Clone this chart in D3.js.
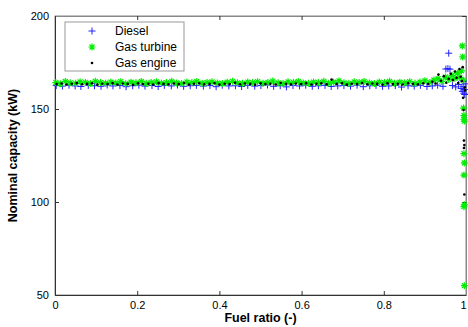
<!DOCTYPE html>
<html><head><meta charset="utf-8">
<script src="https://cdn.jsdelivr.net/npm/d3@7/dist/d3.min.js"></script>
<style>body{margin:0;background:#fff}svg{display:block;font-family:"Liberation Sans",Arial,Helvetica,sans-serif}</style>
</head><body>
<script>
const xTicks=[0,0.2,0.4,0.6,0.8,1];
const yTicks=[50,100,150,200];
const seriesNames=["Diesel","Gas turbine","Gas engine"];
const diesel=[[0.003,162.6],[0.018,162.3],[0.034,162.8],[0.049,162.4],[0.063,162.1],[0.081,162.7],[0.096,162.5],[0.112,162.2],[0.127,162.9],[0.141,162.4],[0.158,162.6],[0.173,162.0],[0.189,162.5],[0.204,162.8],[0.219,162.3],[0.236,162.6],[0.251,162.1],[0.266,162.7],[0.283,162.4],[0.298,162.9],[0.313,162.2],[0.329,162.5],[0.344,162.7],[0.361,162.3],[0.377,162.6],[0.392,162.0],[0.407,162.8],[0.423,162.4],[0.439,162.5],[0.454,162.1],[0.469,162.7],[0.486,162.3],[0.501,162.6],[0.517,162.9],[0.532,162.2],[0.548,162.5],[0.563,161.9],[0.579,162.6],[0.595,162.4],[0.61,162.8],[0.626,162.2],[0.641,162.5],[0.657,162.7],[0.672,162.1],[0.688,162.4],[0.703,162.6],[0.719,162.3],[0.735,162.8],[0.75,162.0],[0.766,162.5],[0.781,162.7],[0.797,162.2],[0.812,162.4],[0.828,162.6],[0.843,161.8],[0.859,162.5],[0.874,162.3],[0.889,162.7],[0.905,162.1],[0.918,162.4],[0.931,162.8],[0.944,162.2],[0.951,171.5],[0.956,171.7],[0.961,171.4],[0.958,180],[0.967,162.6],[0.975,161.9],[0.982,163.2],[0.988,161.0],[0.991,159.5],[0.993,162.0],[0.995,158.5],[0.996,160.5],[0.997,157.8],[0.998,163.5],[0.994,165]];
const gasTurbine=[[0.002,164.2],[0.013,163.6],[0.025,164.8],[0.037,164.1],[0.05,163.8],[0.061,164.6],[0.074,164.3],[0.086,163.7],[0.098,164.9],[0.111,164.2],[0.123,163.9],[0.136,164.5],[0.148,164.0],[0.16,164.7],[0.172,163.6],[0.185,164.4],[0.197,164.1],[0.21,164.8],[0.222,163.8],[0.234,164.3],[0.247,164.6],[0.259,163.9],[0.271,164.2],[0.284,164.9],[0.296,164.0],[0.308,163.7],[0.321,164.5],[0.333,164.2],[0.345,164.8],[0.358,163.9],[0.37,164.3],[0.382,164.6],[0.395,164.0],[0.407,163.7],[0.419,164.4],[0.432,164.9],[0.444,164.1],[0.456,163.8],[0.469,164.5],[0.481,164.2],[0.493,164.7],[0.506,163.9],[0.518,164.3],[0.53,165.0],[0.543,164.1],[0.555,163.7],[0.567,164.6],[0.58,164.3],[0.592,164.8],[0.604,164.0],[0.617,163.8],[0.629,164.5],[0.641,164.2],[0.654,164.9],[0.666,163.9],[0.678,164.4],[0.691,165.1],[0.703,164.1],[0.715,163.8],[0.728,164.6],[0.74,164.3],[0.752,164.8],[0.765,164.0],[0.777,163.7],[0.789,164.5],[0.802,164.2],[0.814,164.9],[0.826,163.9],[0.839,164.4],[0.851,164.1],[0.863,164.7],[0.876,163.8],[0.888,164.5],[0.9,165.2],[0.912,164.3],[0.922,165.6],[0.932,166.3],[0.941,164.8],[0.95,167.2],[0.958,165.9],[0.966,168.1],[0.973,166.5],[0.979,169.3],[0.985,167.0],[0.989,170.5],[0.991,183.9],[0.992,178.0],[0.993,165.5],[0.994,150.5],[0.995,146.5],[0.995,144.5],[0.996,143.5],[0.995,126],[0.996,121],[0.995,114.5],[0.996,98.5],[0.995,97.5],[0.996,55]];
const gasEngine=[[0.004,163.4],[0.016,163.7],[0.028,163.2],[0.041,163.6],[0.053,163.9],[0.066,163.3],[0.078,163.5],[0.09,163.8],[0.103,163.1],[0.115,163.6],[0.128,163.4],[0.14,163.9],[0.152,163.2],[0.165,163.7],[0.177,163.5],[0.19,163.0],[0.202,163.8],[0.214,163.4],[0.227,163.6],[0.239,163.2],[0.252,163.9],[0.264,163.5],[0.276,163.3],[0.289,163.7],[0.301,163.4],[0.314,164.0],[0.326,163.2],[0.338,163.6],[0.351,163.8],[0.363,163.3],[0.376,163.5],[0.388,163.9],[0.4,163.1],[0.413,163.6],[0.425,163.4],[0.438,164.1],[0.45,163.3],[0.462,163.7],[0.475,163.5],[0.487,163.0],[0.5,163.8],[0.512,163.4],[0.524,163.6],[0.537,163.2],[0.549,164.0],[0.562,163.5],[0.574,163.3],[0.586,163.7],[0.599,163.4],[0.611,163.9],[0.624,163.2],[0.636,163.6],[0.648,163.8],[0.661,163.3],[0.673,165.8],[0.685,163.5],[0.698,163.9],[0.71,163.1],[0.722,163.6],[0.735,163.4],[0.747,164.0],[0.76,163.3],[0.772,163.7],[0.784,163.5],[0.797,163.0],[0.809,163.8],[0.822,163.4],[0.834,163.6],[0.846,163.2],[0.859,163.9],[0.871,163.5],[0.883,163.3],[0.896,163.8],[0.908,163.4],[0.918,164.6],[0.926,163.7],[0.933,168.5],[0.939,165.2],[0.946,167.6],[0.952,164.1],[0.958,166.3],[0.963,168.9],[0.968,165.5],[0.973,170.2],[0.977,166.8],[0.981,164.0],[0.984,171.5],[0.987,167.3],[0.99,165.0],[0.992,172.5],[0.993,156],[0.994,149.5],[0.995,133],[0.996,130.6],[0.995,129],[0.996,104],[0.997,161.5],[0.998,160]];

const W=468,H=327,m={l:55,r:2,t:16,b:32};
const svg=d3.select("body").append("svg").attr("width",W).attr("height",H);
const x=d3.scaleLinear().domain([0,1]).range([m.l,W-m.r]);
const y=d3.scaleLinear().domain([50,200]).range([H-m.b,m.t]);
const axisCol="#333";

svg.append("rect").attr("x",x(0)).attr("y",y(200)).attr("width",x(1)-x(0)).attr("height",y(50)-y(200))
  .attr("fill","#fff").attr("stroke","#888").attr("stroke-width",1);

function styleAxis(g){g.select(".domain").attr("stroke",axisCol);g.selectAll(".tick line").attr("stroke",axisCol);
  g.selectAll("text").attr("fill","#000").attr("font-size",11);}
const xAx=svg.append("g").attr("transform",`translate(0,${y(50)})`).call(d3.axisBottom(x).tickValues(xTicks).tickSizeInner(-4).tickSizeOuter(0).tickPadding(6).tickFormat(d3.format("~g"))).call(styleAxis);
xAx.selectAll(".tick text").filter(d=>d===1).attr("dx",-3);
svg.append("g").attr("transform",`translate(${x(0)},0)`).call(d3.axisLeft(y).tickValues(yTicks).tickSizeInner(-4).tickSizeOuter(0).tickPadding(6)).call(styleAxis);
svg.append("g").attr("transform",`translate(0,${y(200)})`).call(d3.axisTop(x).tickValues(xTicks).tickSizeInner(-4).tickSizeOuter(0).tickFormat("")).call(g=>{g.select(".domain").attr("stroke","#888");g.selectAll(".tick line").attr("stroke",axisCol);});
svg.append("g").attr("transform",`translate(${x(1)},0)`).call(d3.axisRight(y).tickValues(yTicks).tickSizeInner(-4).tickSizeOuter(0).tickFormat("")).call(g=>{g.select(".domain").attr("stroke","#888");g.selectAll(".tick line").attr("stroke",axisCol);});

const plot=svg.append("g");
const plusPath=s=>`M${-s},0H${s}M0,${-s}V${s}`;
const starPath=s=>{const d=s*0.707;return `M${-s},0H${s}M0,${-s}V${s}M${-d},${-d}L${d},${d}M${-d},${d}L${d},${-d}`;};
function drawPlus(g,data){g.selectAll(null).data(data).join("path").attr("transform",d=>`translate(${x(d[0])},${y(d[1])})`).attr("d",plusPath(3.5)).attr("stroke","#2020ff").attr("stroke-width",1).attr("fill","none");}
function drawStar(g,data){g.selectAll(null).data(data).join("path").attr("transform",d=>`translate(${x(d[0])},${y(d[1])})`).attr("d",starPath(3.5)).attr("stroke","#00ee00").attr("stroke-width",1.2).attr("fill","none");}
function drawDot(g,data){g.selectAll(null).data(data).join("circle").attr("cx",d=>x(d[0])).attr("cy",d=>y(d[1])).attr("r",1.3).attr("fill","#000");}
drawPlus(plot.append("g"),diesel);
drawStar(plot.append("g"),gasTurbine);
drawDot(plot.append("g"),gasEngine);

// legend
const lg=svg.append("g").attr("transform","translate(65,22)");
lg.append("rect").attr("width",119).attr("height",49).attr("fill","#fff").attr("stroke","#999");
const rows=[9,25,41];
const mk=svg.append("g");
seriesNames.forEach((n,i)=>{
  const pt=[[x.invert(92),y.invert(22+rows[i])]];
  if(i===0)drawPlus(mk.append("g"),pt);
  if(i===1)drawStar(mk.append("g"),pt);
  if(i===2)drawDot(mk.append("g"),pt);
  lg.append("text").attr("x",50).attr("y",rows[i]).attr("dy","0.36em").attr("font-size",12).text(n);
});

svg.append("text").attr("x",(x(0)+x(1))/2).attr("y",322).attr("text-anchor","middle").attr("font-weight","bold").attr("font-size",12.5).text("Fuel ratio (-)");
svg.append("text").attr("transform",`translate(17,${y(125)}) rotate(-90)`).attr("text-anchor","middle").attr("font-weight","bold").attr("font-size",12.5).text("Nominal capacity (kW)");
</script>
</body></html>
